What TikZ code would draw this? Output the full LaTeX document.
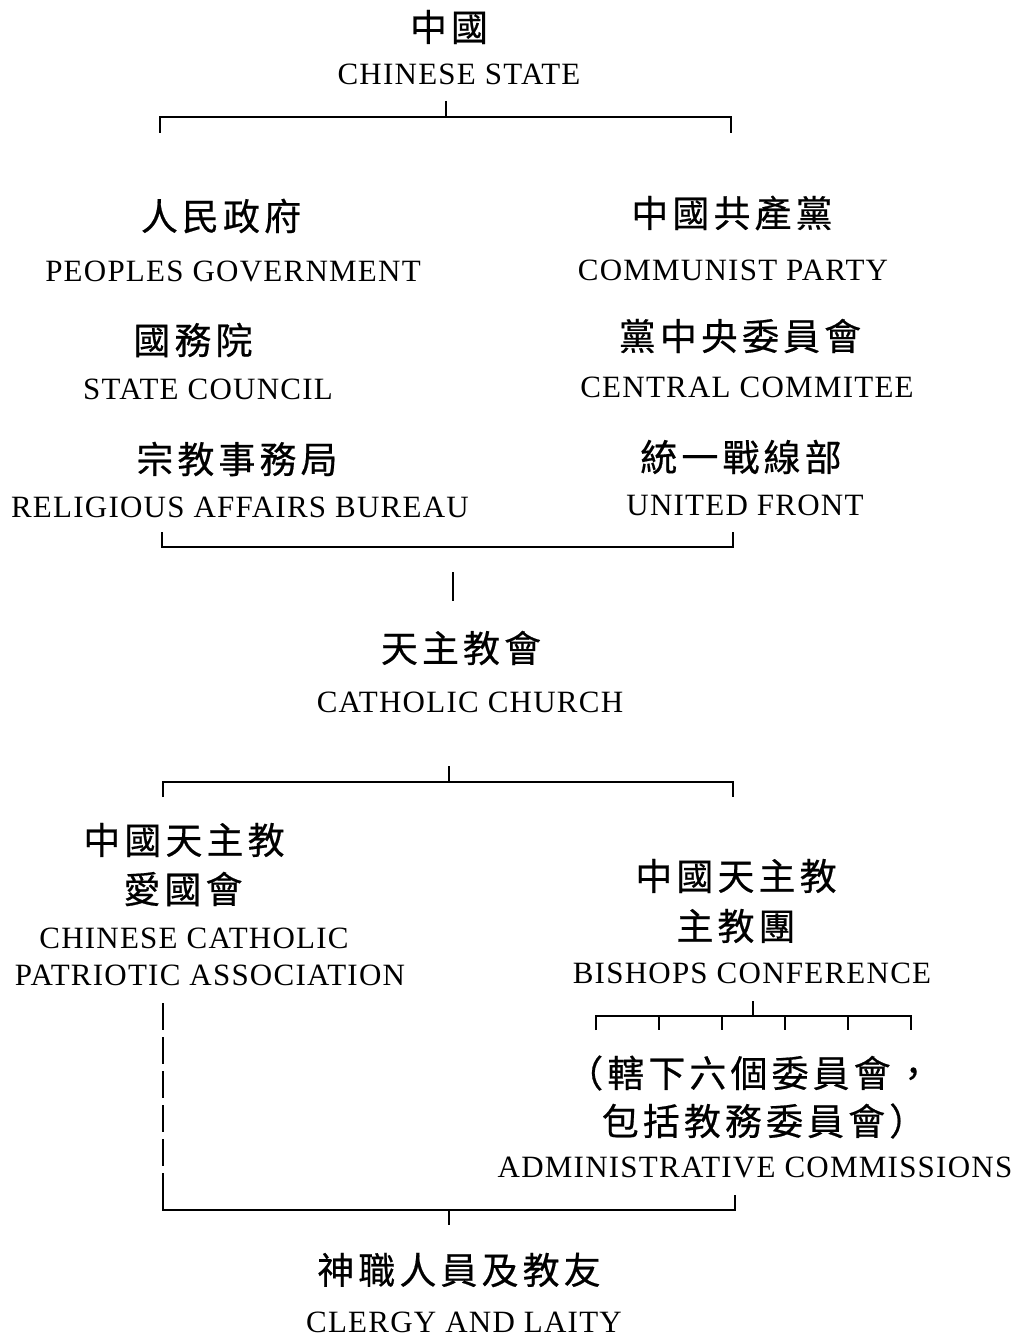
\documentclass[tikz,border=0pt]{standalone}
\usepackage{fontspec}
\setmainfont{Liberation Serif}[LetterSpace=4]
\newfontfamily\zh{Noto Sans CJK TC}[LetterSpace=11,FakeBold=0.5]
\begin{document}
\begin{tikzpicture}[x=1pt,y=-1pt,
  en/.style={font=\fontsize{31}{36}\selectfont, inner sep=0pt, anchor=center},
  cn/.style={font=\zh\fontsize{37}{42}\selectfont, inner sep=0pt, anchor=center, xshift=2pt},
  ln/.style={line width=1.8pt},
  dl/.style={line width=1.8pt, dash pattern=on 27pt off 7pt}]
\useasboundingbox[fill=white] (0,0) rectangle (1013,1337);

% texts
\node[cn] (stateZh) at (447,27) {中國};
\node[en] (stateEn) at (459,74) {CHINESE STATE};
\node[cn] (govZh) at (219,216) {人民政府};
\node[en] (govEn) at (233,271) {PEOPLES GOVERNMENT};
\node[cn] (cpZh) at (730,213) {中國共產黨};
\node[en] (cpEn) at (733,270) {COMMUNIST PARTY};
\node[cn] (scZh) at (191,340) {國務院};
\node[en] (scEn) at (208,389) {STATE COUNCIL};
\node[cn] (ccZh) at (738,336) {黨中央委員會};
\node[en] (ccEn) at (747,387) {CENTRAL COMMITEE};
\node[cn] (rabZh) at (235,459) {宗教事務局};
\node[en] (rabEn) at (240,507) {RELIGIOUS AFFAIRS BUREAU};
\node[cn] (ufZh) at (739,457) {統一戰線部};
\node[en] (ufEn) at (745,505) {UNITED FRONT};
\node[cn] (chZh) at (459,648) {天主教會};
\node[en] (chEn) at (470,702) {CATHOLIC CHURCH};
\node[cn] (cpaZhA) at (182,840) {中國天主教};
\node[cn] (cpaZhB) at (181,889) {愛國會};
\node[en] (cpaEnA) at (194,938) {CHINESE CATHOLIC};
\node[en] (cpaEnB) at (210,975) {PATRIOTIC ASSOCIATION};
\node[cn] (bcZhA) at (734,876) {中國天主教};
\node[cn] (bcZhB) at (734,926) {主教團};
\node[en] (bcEn) at (752,973) {BISHOPS CONFERENCE};
\node[cn] (acZhA) at (747,1073) {（轄下六個委員會，};
\node[cn] (acZhB) at (762,1121) {包括教務委員會）};
\node[en] (acEn) at (755,1167) {ADMINISTRATIVE COMMISSIONS};
\node[cn] (clZh) at (457,1270) {神職人員及教友};
\node[en] (clEn) at (464,1322) {CLERGY AND LAITY};

% bracket 1
\coordinate (aTop) at (446,101);
\coordinate (aMid) at (446,117);
\coordinate (aL) at (160,133);
\coordinate (aR) at (731,133);
\draw[ln] (aTop) -- (aMid);
\draw[ln] (aL) |- (aMid) -| (aR);

% bracket 2
\coordinate (bL) at (162,532);
\coordinate (bMid) at (453,547);
\coordinate (bR) at (733,532);
\draw[ln] (bL) |- (bMid) -| (bR);
\coordinate (bsTop) at (453,572);
\coordinate (bsBot) at (453,601);
\draw[ln] (bsTop) -- (bsBot);

% bracket 3
\coordinate (cTop) at (449,766);
\coordinate (cMid) at (449,782);
\coordinate (cL) at (163,797);
\coordinate (cR) at (733,797);
\draw[ln] (cTop) -- (cMid);
\draw[ln] (cL) |- (cMid) -| (cR);

% six-way bracket
\coordinate (dTop) at (753,1001);
\coordinate (dMid) at (753,1016);
\draw[ln] (dTop) -- (dMid);
\coordinate (dL) at (596,1030);
\coordinate (dR) at (911,1030);
\draw[ln] (dL) |- (dMid) -| (dR);
\foreach \x [count=\i] in {659,722,785,848} {
  \coordinate (dt\i) at (\x,1016);
  \draw[ln] (dt\i) -- ++(0,14);
}

% bottom bracket
\coordinate (eDash) at (163,1003);
\coordinate (eDashEnd) at (163,1200);
\coordinate (eMid) at (449,1210);
\coordinate (eR) at (735,1195);
\coordinate (eBot) at (449,1225);
\draw[dl] (eDash) -- (eDashEnd);
\draw[ln] (eDashEnd) |- (eMid) -| (eR);
\draw[ln] (eMid) -- (eBot);
\end{tikzpicture}
\end{document}
